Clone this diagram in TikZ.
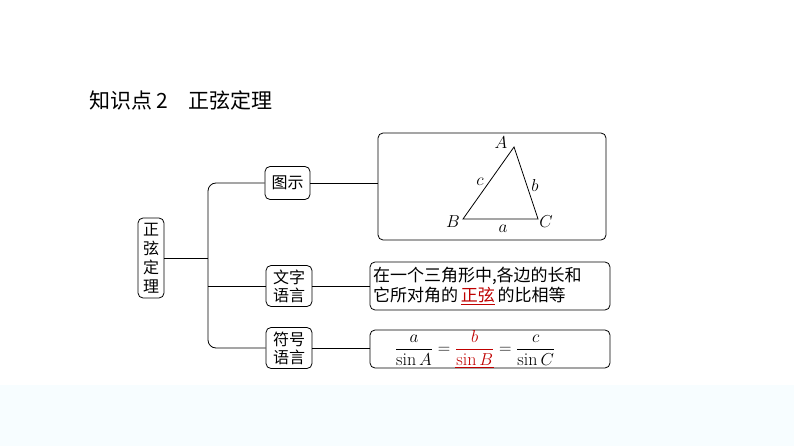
\documentclass[tikz,border=0pt]{standalone}
\usepackage{fontspec}
\newfontfamily\cjk{Noto Sans CJK SC}
\begin{document}
\begin{tikzpicture}[x=1pt,y=-1pt,
  bx/.style={draw,thick,rounded corners=5pt,inner sep=0pt},
  ln/.style={thick},
  mt/.style={font=\fontsize{17}{19}\selectfont},
  t/.style={font=\cjk\fontsize{16}{18}\selectfont,align=center}]
\useasboundingbox (0,0) rectangle (794,446);
\fill[cyan!3] (0,385) rectangle (794,446);
\node[anchor=west,font=\cjk\fontsize{21}{23}\selectfont] (title) at (86,100) {知识点\,2\quad 正弦定理};
\node[bx,minimum width=26pt,minimum height=80pt,t,text width=16pt,font=\cjk\fontsize{16}{19}\selectfont] (root) at (151,258) {正\\弦\\定\\理};
\node[bx,minimum width=45pt,minimum height=33pt,t] (tu) at (287.5,183) {图示};
\node[bx,minimum width=46pt,minimum height=41pt,t,font=\cjk\fontsize{16}{18}\selectfont] (wz) at (289,286) {文字\\语言};
\node[bx,minimum width=46pt,minimum height=41pt,t,font=\cjk\fontsize{16}{18}\selectfont] (fh) at (289,348) {符号\\语言};
\node[bx,minimum width=228pt,minimum height=107pt] (tri) at (492,186.5) {};
\node[bx,minimum width=240pt,minimum height=48pt,t,font=\cjk\fontsize{17}{20}\selectfont,align=left,inner xsep=3pt,text width=234pt] (txt) at (490,286) {在一个三角形中,各边的长和\\它所对角的\,{\color{red!75!black}\underline{正弦}}\,的比相等};
\node[bx,minimum width=240pt,minimum height=38pt] (fm) at (490,349) {};
\node[font=\fontsize{18}{20}\selectfont] (eq) at (475,349) {$\displaystyle\frac{a}{\sin A}=\textcolor{red!75!black}{\underline{\frac{b}{\sin B}}}=\frac{c}{\sin C}$};
\coordinate (j) at (208,258);
\draw[ln] (root.east) -- (j);
\draw[ln,rounded corners=8pt] (tu.west) -- (208,183) -- (208,348) -- (fh.west);
\draw[ln] (208,286) -- (wz.west);
\draw[ln] (tu.east) -- (tri.west |- tu.east);
\draw[ln] (wz.east) -- (txt.west |- wz.east);
\draw[ln] (fh.east) -- (fm.west |- fh.east);
\coordinate (A) at (514,147); \coordinate (B) at (463,219); \coordinate (C) at (538,219);
\draw[thick] (A) -- (B) -- (C) -- cycle;
\node[mt] (lA) at (501,143) {$A$};
\node[mt] (lB) at (453,222) {$B$};
\node[mt] (lC) at (546,222) {$C$};
\node[mt] (lc) at (480,182) {$c$};
\node[mt] (lb) at (535,186) {$b$};
\node[mt] (la) at (503,229) {$a$};
\end{tikzpicture}
\end{document}
